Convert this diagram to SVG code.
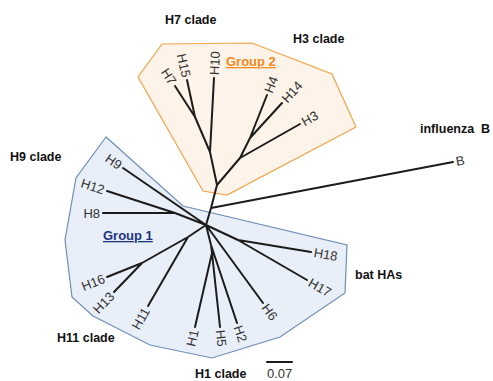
<svg xmlns="http://www.w3.org/2000/svg" width="493" height="381" viewBox="0 0 493 381">
<style>
.bg{fill:#ffffff}
.g1{fill:#e9eff8;stroke:#6f8fb8;stroke-width:1.2}
.g2{fill:#fdf3e8;stroke:#f3a349;stroke-width:1.2}
.br{fill:none;stroke:#1c1c1c;stroke-width:2;stroke-linecap:round;stroke-linejoin:round}
.lf{font-family:"Liberation Sans",Arial,sans-serif;font-size:13px;fill:#333333}
.cl{font-family:"Liberation Sans",Arial,sans-serif;font-size:12.5px;font-weight:bold;fill:#111111}
.gp{font-family:"Liberation Sans",Arial,sans-serif;font-size:13px;font-weight:bold;text-decoration:underline}
</style>
<rect class="bg" x="0" y="0" width="493" height="381"/>
<g id="group1">
<polygon class="g1" points="106,137 76,178 65,240 72,297 93,316 150,345 212,358 280,337 345,293 347,245 183,206"/>
<text class="gp" x="103" y="240" fill="#1b357f">Group 1</text>
</g>
<g id="group2">
<polygon class="g2" points="162,44 252,43 332,74 356,127 227,195 203,191 138,77"/>
<text class="gp" x="226" y="66" fill="#f08a1c">Group 2</text>
</g>
<g id="connectors">
<path class="br" d="M206,225 L211,208 L217,185 L210,152 L195,117 L175,86 M195,117 L187,80 M210,152 L214,78 M217,185 L240,158 L300,124 M240,158 L250,138 L267,95 M250,138 L282,103 M211,208 L453,162"/>
<path class="br" d="M206,225 L123,168 M206,225 L175,213 L103,213 M175,213 L107,191 M206,225 L188,237 L142,263 L107,277 M142,263 L114,292 M188,237 L148,306 M206,225 L211,245 L237,323 M211,245 L212,253 L195,327 M212,253 L220,327 M206,225 L263,303 M206,225 L238,240 L311,252 M238,240 L307,280"/>
<path class="br" d="M267,362 L292,362"/>
</g>
<g id="leaf-H7" transform="translate(175,86) rotate(57.2)"><text class="lf" x="-3" dy="0.35em" text-anchor="end">H7</text></g>
<g id="leaf-H15" transform="translate(187,80) rotate(77.8)"><text class="lf" x="-3" dy="0.35em" text-anchor="end">H15</text></g>
<g id="leaf-H10" transform="translate(214,78) rotate(-86.9)"><text class="lf" x="3" dy="0.35em">H10</text></g>
<g id="leaf-H4" transform="translate(267,95) rotate(-68.4)"><text class="lf" x="3" dy="0.35em">H4</text></g>
<g id="leaf-H14" transform="translate(282,103) rotate(-47.6)"><text class="lf" x="3" dy="0.35em">H14</text></g>
<g id="leaf-H3" transform="translate(300,124) rotate(-29.5)"><text class="lf" x="3" dy="0.35em">H3</text></g>
<g id="leaf-B" transform="translate(453,162) rotate(-10.8)"><text class="lf" x="3" dy="0.35em">B</text></g>
<g id="leaf-H9" transform="translate(123,168) rotate(34.5)"><text class="lf" x="-3" dy="0.35em" text-anchor="end">H9</text></g>
<g id="leaf-H12" transform="translate(107,191) rotate(17.9)"><text class="lf" x="-3" dy="0.35em" text-anchor="end">H12</text></g>
<g id="leaf-H8" transform="translate(103,213)"><text class="lf" x="-3" dy="0.35em" text-anchor="end">H8</text></g>
<g id="leaf-H16" transform="translate(107,277) rotate(-21.8)"><text class="lf" x="-3" dy="0.35em" text-anchor="end">H16</text></g>
<g id="leaf-H13" transform="translate(114,292) rotate(-46)"><text class="lf" x="-3" dy="0.35em" text-anchor="end">H13</text></g>
<g id="leaf-H11" transform="translate(148,306) rotate(-59.9)"><text class="lf" x="-3" dy="0.35em" text-anchor="end">H11</text></g>
<g id="leaf-H1" transform="translate(195,327) rotate(-77.1)"><text class="lf" x="-3" dy="0.35em" text-anchor="end">H1</text></g>
<g id="leaf-H5" transform="translate(220,327) rotate(83.8)"><text class="lf" x="3" dy="0.35em">H5</text></g>
<g id="leaf-H2" transform="translate(237,323) rotate(71.6)"><text class="lf" x="3" dy="0.35em">H2</text></g>
<g id="leaf-H6" transform="translate(263,303) rotate(53.8)"><text class="lf" x="3" dy="0.35em">H6</text></g>
<g id="leaf-H18" transform="translate(311,252) rotate(9.3)"><text class="lf" x="3" dy="0.35em">H18</text></g>
<g id="leaf-H17" transform="translate(307,280) rotate(30.1)"><text class="lf" x="3" dy="0.35em">H17</text></g>
<g id="clade-labels">
<text class="cl" x="165" y="24">H7 clade</text>
<text class="cl" x="293" y="43">H3 clade</text>
<text class="cl" x="420" y="133" xml:space="preserve">influenza  B</text>
<text class="cl" x="10" y="161">H9 clade</text>
<text class="cl" x="355" y="279">bat HAs</text>
<text class="cl" x="57" y="342">H11 clade</text>
<text class="cl" x="195" y="378">H1 clade</text>
</g>
<g id="scale"><text class="lf" x="267" y="378" font-size="12">0.07</text></g>
</svg>
